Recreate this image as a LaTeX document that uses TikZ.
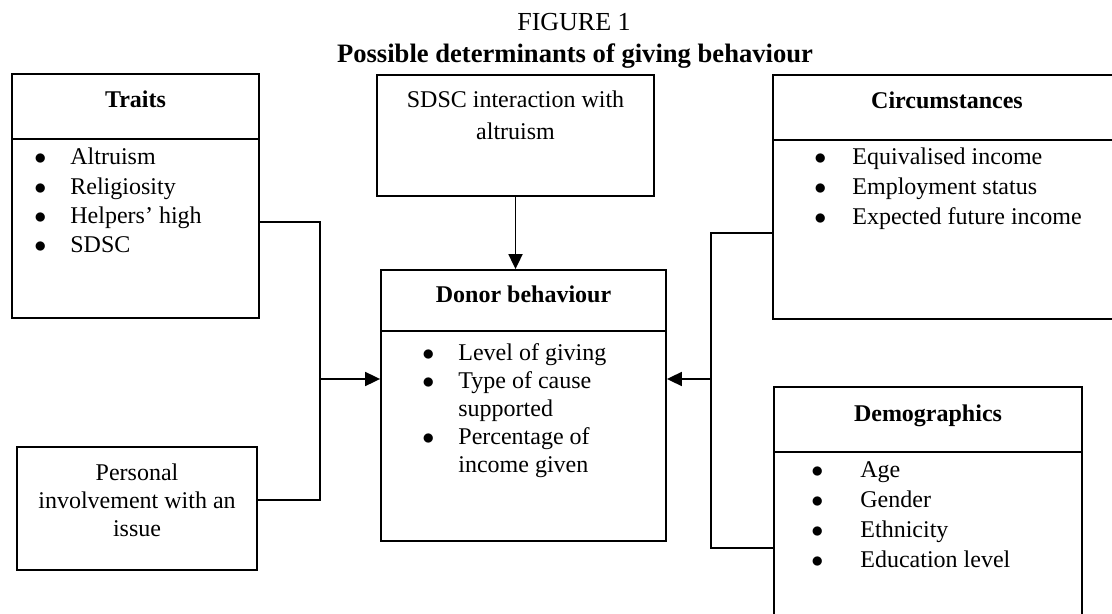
\documentclass[tikz,border=0pt]{standalone}
\usepackage{fontspec}
\setmainfont{Liberation Serif}
\usetikzlibrary{positioning,arrows.meta,calc}

\begin{document}
\begin{tikzpicture}[
    x=0.5pt, y=-0.5pt,
    every node/.style={font=\fontsize{12}{14.6}\selectfont, inner sep=0pt},
    boxNode/.style={rectangle, draw=black, line width=0.9pt},
    headNode/.style={rectangle, draw=black, line width=0.9pt, font=\fontsize{12}{14.6}\selectfont\bfseries, text height=17pt, text depth=15.5pt},
    listNode/.style={anchor=base west},
    textNode/.style={anchor=base},
    titleNode/.style={anchor=base, font=\fontsize{13}{15}\selectfont},
    linkEdge/.style={draw=black, line width=0.9pt},
    arrowEdge/.style={draw=black, line width=0.9pt, -{Triangle[length=7.5pt,width=7pt]}}
]
    \useasboundingbox (0,0) rectangle (1112,614);
    \clip (0,0) rectangle (1112,614);

    % title
    \node [titleNode] (figNum) at (574,31) {FIGURE 1};
    \node [titleNode, font=\fontsize{13.3}{15}\selectfont\bfseries] (figTitle) at (575,63) {Possible determinants of giving behaviour};

    % boxes
    \node [boxNode, minimum width=123.5pt, minimum height=122pt] (traits) at (135.5,196) {};
    \node [headNode, minimum width=123.5pt, below=0pt of traits.north] (traitsHead) {Traits};
    \node [listNode] (traitsList) at (34,165) {\begin{tabular}[t]{@{}p{18pt}@{}l@{}}
        $\bullet$ & Altruism\\
        $\bullet$ & Religiosity\\
        $\bullet$ & Helpers’ high\\
        $\bullet$ & SDSC
    \end{tabular}};

    \node [boxNode, minimum width=138.5pt, minimum height=60.5pt] (sdsc) at (515.5,135.5) {};
    \node [textNode, font=\fontsize{12}{16}\selectfont] (sdscText) at (515.5,108) {\begin{tabular}[t]{@{}c@{}}SDSC interaction with\\altruism\end{tabular}};

    \node [boxNode, minimum width=120pt, minimum height=61.5pt] (personal) at (137,508.5) {};
    \node [textNode, font=\fontsize{12}{14}\selectfont] (personalText) at (137,480) {\begin{tabular}[t]{@{}c@{}}Personal\\involvement with an\\issue\end{tabular}};

    \node [boxNode, minimum width=142.5pt, minimum height=135.5pt] (donor) at (523.5,405.5) {};
    \node [headNode, minimum width=142.5pt, text height=16.5pt, text depth=14pt, below=0pt of donor.north] (donorHead) {Donor behaviour};
    \node [listNode, font=\fontsize{12}{14.1}\selectfont] (donorList) at (422,360) {\begin{tabular}[t]{@{}p{18pt}@{}l@{}}
        $\bullet$ & Level of giving\\
        $\bullet$ & Type of cause\\
                  & supported\\
        $\bullet$ & Percentage of\\
                  & income given
    \end{tabular}};

    \node [boxNode, minimum width=174pt, minimum height=122pt] (circ) at (947,197) {};
    \node [headNode, minimum width=174pt, below=0pt of circ.north] (circHead) {Circumstances};
    \node [listNode, font=\fontsize{12}{15}\selectfont] (circList) at (814,165) {\begin{tabular}[t]{@{}p{19pt}@{}l@{}}
        $\bullet$ & Equivalised income\\
        $\bullet$ & Employment status\\
        $\bullet$ & Expected future income
    \end{tabular}};

    \node [boxNode, minimum width=154pt, minimum height=129pt] (demo) at (928,516) {};
    \node [headNode, minimum width=154pt, below=0pt of demo.north] (demoHead) {Demographics};
    \node [listNode, font=\fontsize{12}{15}\selectfont] (demoList) at (811,477) {\begin{tabular}[t]{@{}p{24.5pt}@{}l@{}}
        $\bullet$ & Age\\
        $\bullet$ & Gender\\
        $\bullet$ & Ethnicity\\
        $\bullet$ & Education level
    \end{tabular}};

    % connectors
    \coordinate (leftJoin) at (320,379);
    \coordinate (rightJoin) at (711,379);

    \path [linkEdge] ([yshift=-13pt]traits.east) -| (leftJoin);
    \path [linkEdge] ([yshift=4.25pt]personal.east) -| (leftJoin);
    \path [arrowEdge] (leftJoin) -- (leftJoin -| donor.west);

    \path [linkEdge] ([yshift=-18pt]circ.west) -| (rightJoin);
    \path [linkEdge] ([yshift=-16pt]demo.west) -| (rightJoin);
    \path [arrowEdge] (rightJoin) -- (rightJoin -| donor.east);

    \path [arrowEdge] (sdsc.south) -- (sdsc.south |- donor.north);
\end{tikzpicture}
\end{document}
